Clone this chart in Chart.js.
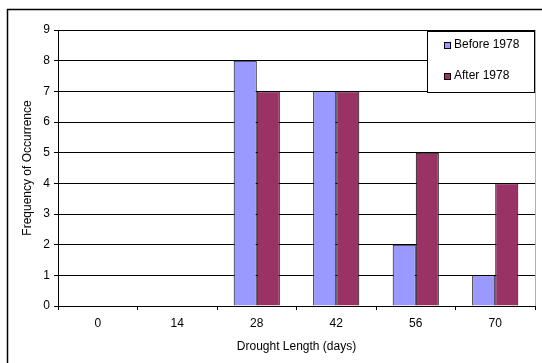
<!DOCTYPE html>
<html>
	<head>
		<meta charset="utf-8">
		<title>Drought Length</title>
		<script src="https://cdn.jsdelivr.net/npm/chart.js"></script>
		<style>
			html, body { margin: 0; padding: 0; background: #fff; }
			#wrap { width: 542px; height: 363px; position: relative; }
		</style>
	</head>
	<body>
		<div id="wrap"><canvas id="drought" width="542" height="363"></canvas></div>
		<script type="text/javascript">
			const lengths = ['0', '14', '28', '42', '56', '70'];
			const before1978 = [0, 0, 8, 7, 2, 1];
			const after1978 = [0, 0, 7, 7, 5, 4];
			const seriesNames = ['Before 1978', 'After 1978'];
			const seriesColors = ['#9999ff', '#993366'];

			const font = { family: 'Arial, "Liberation Sans", sans-serif', size: 12 };

			// outer frame + legend box, Excel style
			const excelBits = {
				id: 'excelBits',
				beforeDraw(chart) {
					let ctx = chart.ctx;
					ctx.save();
					ctx.fillStyle = '#fff';
					ctx.fillRect(0, 0, chart.width, chart.height);
					ctx.strokeStyle = '#000';
					ctx.lineWidth = 1.5;
					ctx.strokeRect(7.5, 9.5, 600, 400);
					let a = chart.chartArea;
					ctx.strokeStyle = '#b0b0b0';
					ctx.lineWidth = 1;
					ctx.beginPath();
					ctx.moveTo(Math.round(a.right) + 0.5, a.top);
					ctx.lineTo(Math.round(a.right) + 0.5, a.bottom);
					ctx.stroke();
					ctx.restore();
				},
				afterDraw(chart) {
					let ctx = chart.ctx;
					ctx.save();
					let x = 427, y = 31, w = 107, h = 61;
					ctx.fillStyle = '#fff';
					ctx.fillRect(x, y, w, h);
					ctx.strokeStyle = '#000';
					ctx.lineWidth = 1;
					ctx.strokeRect(x + 0.5, y + 0.5, w, h);
					ctx.font = '12px Arial, "Liberation Sans", sans-serif';
					ctx.textBaseline = 'middle';
					chart.data.datasets.forEach((ds, i) => {
						let cy = y + 14 + i * 31;
						ctx.fillStyle = ds.backgroundColor;
						ctx.fillRect(x + 17, cy - 3, 7, 7);
						ctx.strokeStyle = '#000';
						ctx.strokeRect(x + 17.5, cy - 2.5, 6, 6);
						ctx.fillStyle = '#000';
						ctx.fillText(ds.label, x + 27, cy);
					});
					ctx.restore();
				}
			};

			new Chart(document.getElementById('drought'), {
				type: 'bar',
				data: {
					labels: lengths,
					datasets: [
						{ label: seriesNames[0], data: before1978, backgroundColor: seriesColors[0], borderColor: '#000', borderWidth: 1, categoryPercentage: 0.58, barPercentage: 1 },
						{ label: seriesNames[1], data: after1978, backgroundColor: seriesColors[1], borderColor: '#000', borderWidth: 1, categoryPercentage: 0.58, barPercentage: 1 }
					]
				},
				options: {
					responsive: false,
					animation: false,
					layout: { padding: { left: 0, top: 30, right: 7, bottom: 0 } },
					plugins: { legend: { display: false }, tooltip: { enabled: false } },
					scales: {
						x: {
							afterFit: s => { s.height = 57; },
							grid: { offset: true, drawOnChartArea: false, color: '#000', tickLength: 4 },
							border: { color: '#000' },
							ticks: { color: '#000', font: font, padding: 6 },
							title: { display: true, text: 'Drought Length (days)', color: '#000', font: font, padding: { top: 4, bottom: 9 } }
						},
						y: {
							min: 0, max: 9,
							afterFit: s => { s.width = 58; },
							grid: { color: '#000', tickLength: 4 },
							border: { color: '#000' },
							ticks: { stepSize: 1, color: '#000', font: font, padding: 4 },
							title: { display: true, text: 'Frequency of Occurrence', color: '#000', font: font, padding: { top: 20, bottom: 0 } }
						}
					}
				},
				plugins: [excelBits]
			});
		</script>
	</body>
</html>
